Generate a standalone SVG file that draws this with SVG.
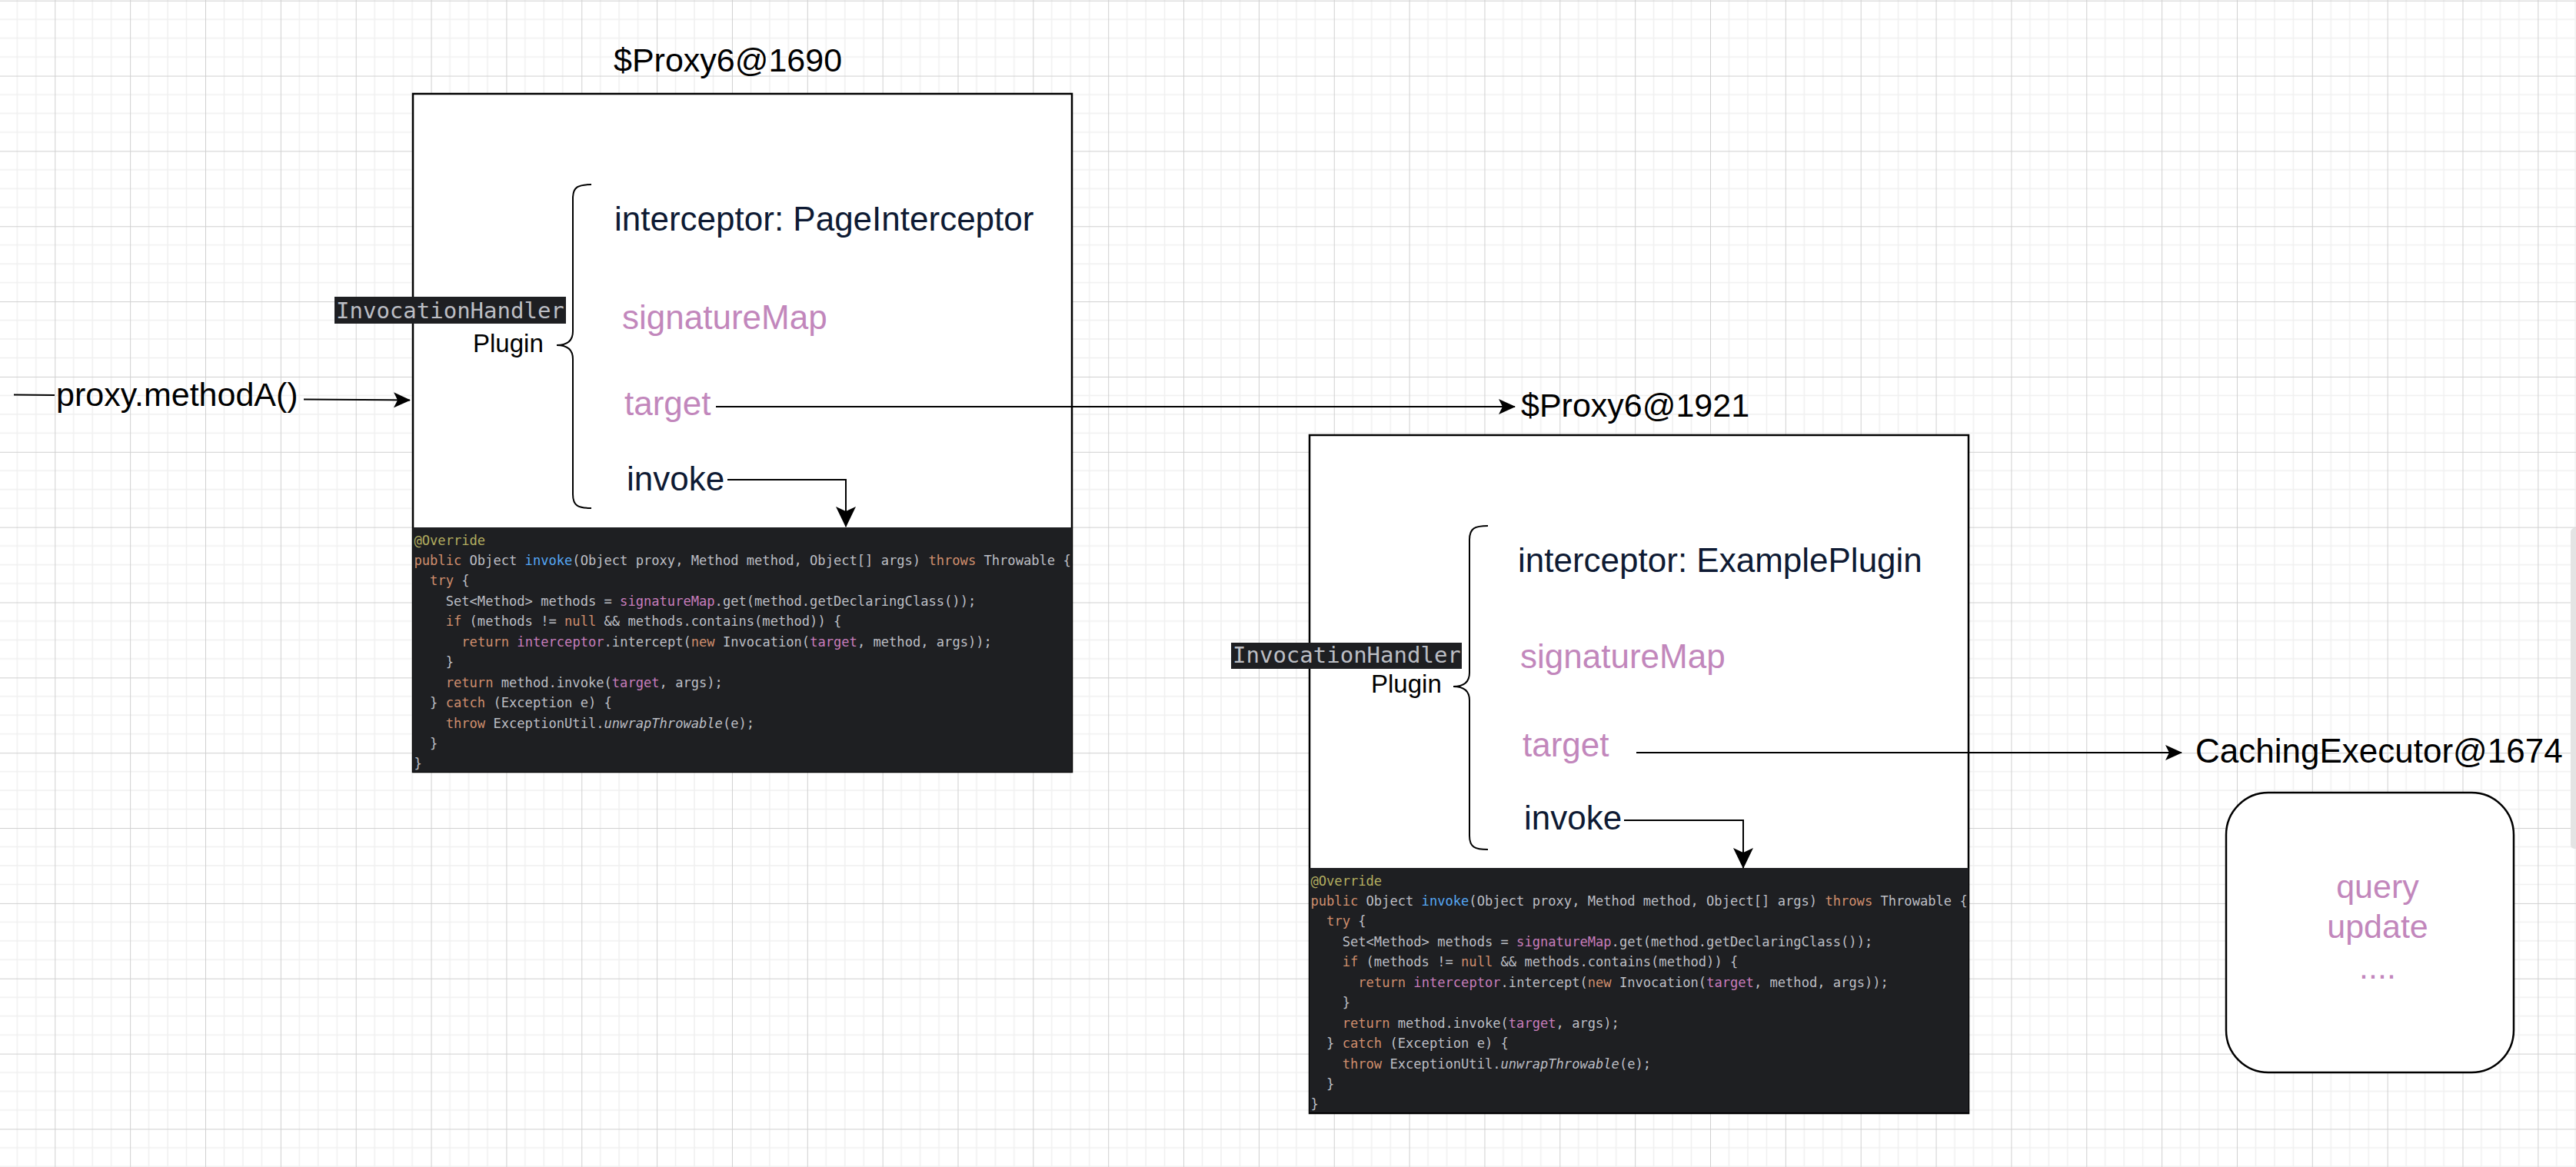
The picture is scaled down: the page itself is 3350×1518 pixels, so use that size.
<svg xmlns="http://www.w3.org/2000/svg" xmlns:xlink="http://www.w3.org/1999/xlink" width="3350" height="1518" viewBox="0 0 3350 1518">
<style>
.sans{font-family:"Liberation Sans",Arial,Helvetica,sans-serif}
.blk{fill:#000}
.navy{fill:#0e1a33}
.pink{fill:#c287bc}
.box{fill:#fff;stroke:#000;stroke-width:2.5}
.brace{fill:none;stroke:#000;stroke-width:2}
.edge{fill:none;stroke:#000;stroke-width:2}
.code{font-family:"DejaVu Sans Mono","Liberation Mono",monospace;font-size:17.1px;fill:#bcbec4;white-space:pre}
.kw{fill:#cf8e6d}.an{fill:#b3ae60}.fn{fill:#56a8f5}.fd{fill:#c77dbb}.it{font-style:italic}
.ihbg{fill:#1e1f22}
.ih{font-family:"DejaVu Sans Mono","Liberation Mono",monospace;font-size:29px;fill:#bcbec4}
</style>
<defs>
<pattern id="grid" patternUnits="userSpaceOnUse" x="71.3" y="0.7" width="97.85" height="97.85">
<rect width="97.85" height="97.85" fill="#fff"/>
<path d="M24.46 0V97.85M48.93 0V97.85M73.39 0V97.85M0 24.46H97.85M0 48.93H97.85M0 73.39H97.85" stroke="#f0f0f0" stroke-width="1.5"/>
<path d="M0.5 0V97.85M0 0.5H97.85" stroke="#d0d0d0" stroke-width="1"/>
</pattern>
<marker id="arr" markerUnits="userSpaceOnUse" markerWidth="22" markerHeight="20" refX="21" refY="10" orient="auto" viewBox="0 0 22 20"><path d="M0,0 L22,10 L0,20 L5,10 Z" fill="#000"/></marker>
<marker id="arrBig" markerUnits="userSpaceOnUse" markerWidth="27" markerHeight="26" refX="26" refY="13" orient="auto" viewBox="0 0 27 26"><path d="M0,0 L27,13 L0,26 L6,13 Z" fill="#000"/></marker>
<path id="brace" class="brace" d="M232,118 C215,118 208,121 208,136 V309 C208,321 201,327 187,327 C201,327 208,333 208,345 V521 C208,536 215,539 232,539"/>
<g id="code">
<rect x="0" y="0" width="857" height="318" fill="#1e1f22"/>
<text class="code" x="1.5" y="22.5"><tspan class="an">@Override</tspan></text>
<text class="code" x="1.5" y="48.9"><tspan class="kw">public</tspan> Object <tspan class="fn">invoke</tspan>(Object proxy, Method method, Object[] args) <tspan class="kw">throws</tspan> Throwable {</text>
<text class="code" x="22.1" y="75.4"><tspan class="kw">try</tspan> {</text>
<text class="code" x="42.7" y="101.8">Set&lt;Method&gt; methods = <tspan class="fd">signatureMap</tspan>.get(method.getDeclaringClass());</text>
<text class="code" x="42.7" y="128.3"><tspan class="kw">if</tspan> (methods != <tspan class="kw">null</tspan> &amp;&amp; methods.contains(method)) {</text>
<text class="code" x="63.3" y="154.7"><tspan class="kw">return</tspan> <tspan class="fd">interceptor</tspan>.intercept(<tspan class="kw">new</tspan> Invocation(<tspan class="fd">target</tspan>, method, args));</text>
<text class="code" x="42.7" y="181.2">}</text>
<text class="code" x="42.7" y="207.6"><tspan class="kw">return</tspan> method.invoke(<tspan class="fd">target</tspan>, args);</text>
<text class="code" x="22.1" y="234.1">} <tspan class="kw">catch</tspan> (Exception e) {</text>
<text class="code" x="42.7" y="260.5"><tspan class="kw">throw</tspan> ExceptionUtil.<tspan class="it">unwrapThrowable</tspan>(e);</text>
<text class="code" x="22.1" y="287">}</text>
<text class="code" x="1.5" y="313.4">}</text>
</g>
</defs>

<rect width="3350" height="1518" fill="url(#grid)"/>
<rect x="3343" y="687" width="12" height="417" rx="5" fill="#e4e4e4"/>

<g id="proxy1">
<text class="sans blk" x="798" y="93" font-size="43">$Proxy6@1690</text>
<rect class="box" x="537" y="122" width="857" height="882"/>
<use xlink:href="#code" x="537" y="686"/>
<use xlink:href="#brace" x="537" y="122"/>
<text class="sans navy" x="799" y="300" font-size="44">interceptor: PageInterceptor</text>
<text class="sans pink" x="809" y="428" font-size="44">signatureMap</text>
<text class="sans pink" x="812" y="540" font-size="44">target</text>
<text class="sans navy" x="815" y="638" font-size="44">invoke</text>
<rect class="ihbg" x="435" y="386" width="301" height="35"/>
<text class="ih" x="437" y="414">InvocationHandler</text>
<text class="sans blk" x="615" y="458" font-size="33">Plugin</text>
</g>

<g id="proxy2">
<text class="sans blk" x="1978" y="542" font-size="43">$Proxy6@1921</text>
<rect class="box" x="1703" y="566" width="857" height="882"/>
<use xlink:href="#code" x="1703" y="1129"/>
<use xlink:href="#brace" x="1703" y="566"/>
<text class="sans navy" x="1974" y="744" font-size="44">interceptor: ExamplePlugin</text>
<text class="sans pink" x="1977" y="869" font-size="44">signatureMap</text>
<text class="sans pink" x="1980" y="984" font-size="44">target</text>
<text class="sans navy" x="1982" y="1079" font-size="44">invoke</text>
<rect class="ihbg" x="1601" y="836" width="300" height="34"/>
<text class="ih" x="1603" y="862">InvocationHandler</text>
<text class="sans blk" x="1783" y="901" font-size="33">Plugin</text>
</g>

<g id="cachingExecutor">
<text class="sans blk" x="2855" y="992" font-size="44">CachingExecutor@1674</text>
<rect class="box" x="2895" y="1031" width="374" height="364" rx="55" ry="55"/>
<text class="sans pink" x="3092" y="1168" font-size="43" text-anchor="middle">query</text>
<text class="sans pink" x="3092" y="1220" font-size="43" text-anchor="middle">update</text>
<text class="sans pink" x="3092" y="1273" font-size="43" text-anchor="middle">....</text>
</g>

<g id="connectors">
<path class="edge" d="M18,513.5 L71,514"/>
<text class="sans blk" x="73" y="528" font-size="43">proxy.methodA()</text>
<path class="edge" d="M395,519.5 L533,520.5" marker-end="url(#arr)"/>
<path class="edge" d="M931,529 H1970" marker-end="url(#arr)"/>
<path class="edge" d="M946,624 H1100 V685" marker-end="url(#arrBig)"/>
<path class="edge" d="M2128,979 H2837" marker-end="url(#arr)"/>
<path class="edge" d="M2112,1067 H2267 V1129" marker-end="url(#arrBig)"/>
</g>
</svg>
